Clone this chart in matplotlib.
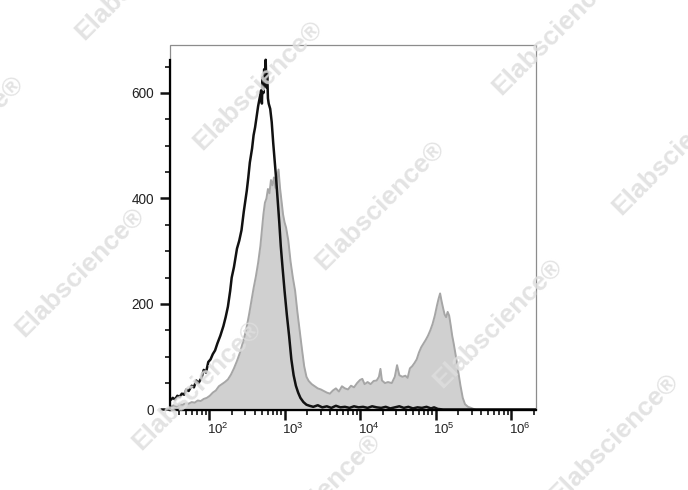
import numpy as np
import matplotlib
matplotlib.use("Agg")
import matplotlib.pyplot as plt
from matplotlib.patches import Rectangle
from matplotlib.ticker import LogLocator, MultipleLocator, FixedLocator
import matplotlib.transforms as mtransforms

plt.rcParams['font.family'] = ['Liberation Sans', 'DejaVu Sans']
plt.rcParams['mathtext.fontset'] = 'custom'
plt.rcParams['mathtext.rm'] = 'Liberation Sans'

# black histogram (isotype / unstained), x in log10 decades, y = count
black_log = [1.49, 1.52, 1.55, 1.58, 1.61, 1.64, 1.67, 1.70, 1.73, 1.77, 1.80, 1.83,
             1.86, 1.90, 1.93, 1.96, 1.99, 2.02, 2.05, 2.08, 2.11, 2.15, 2.19, 2.22,
             2.25, 2.28, 2.30, 2.33, 2.37, 2.40, 2.43, 2.46, 2.50, 2.52, 2.54, 2.57,
             2.59, 2.61, 2.63, 2.65, 2.67, 2.69, 2.70, 2.71, 2.72, 2.73, 2.74, 2.75,
             2.76, 2.77, 2.78, 2.79, 2.81, 2.83, 2.85, 2.87, 2.89, 2.91, 2.93, 2.95,
             2.97, 3.00, 3.03, 3.06, 3.09, 3.12, 3.15, 3.18, 3.21, 3.25, 3.29, 3.33,
             3.38, 3.44, 3.50, 3.56, 3.62, 3.68, 3.74, 3.80, 3.86, 3.92, 3.98, 4.04,
             4.10, 4.16, 4.22, 4.28, 4.34, 4.40, 4.46, 4.52, 4.58, 4.64, 4.70, 4.76,
             4.82, 4.88, 4.94, 4.98, 5.03, 5.10, 6.35]
black_cnt = [18, 22, 19, 26, 24, 30, 28, 38, 35, 45, 42, 55,
             50, 60, 75, 70, 90, 95, 105, 112, 125, 140, 158, 175,
             195, 225, 250, 270, 305, 320, 340, 375, 415, 440, 468, 495,
             520, 535, 555, 575, 590, 605, 580, 630, 600, 645, 620, 663,
             610, 640, 590, 580, 570, 545, 505, 470, 435, 395, 355, 310,
             275, 225, 180, 140, 95, 65, 45, 32, 22, 14, 9, 7,
             5, 8, 4, 6, 3, 7, 4, 5, 3, 6, 4, 5,
             3, 6, 4, 3, 5, 2, 4, 6, 3, 5, 2, 4,
             3, 5, 2, 4, 1, 0, 0]

# gray filled histogram (stained)
gray_log = [1.49, 1.53, 1.57, 1.61, 1.65, 1.69, 1.73, 1.77, 1.81, 1.85, 1.89, 1.93,
            1.97, 2.01, 2.05, 2.09, 2.13, 2.17, 2.21, 2.25, 2.29, 2.33, 2.37, 2.41,
            2.45, 2.49, 2.53, 2.56, 2.59, 2.62, 2.65, 2.68, 2.70, 2.72, 2.74, 2.76,
            2.78, 2.80, 2.82, 2.84, 2.86, 2.88, 2.90, 2.92, 2.94, 2.96, 2.98, 3.00,
            3.02, 3.05, 3.08, 3.11, 3.14, 3.17, 3.20, 3.23, 3.26, 3.29, 3.32, 3.36,
            3.40, 3.44, 3.48, 3.52, 3.56, 3.60, 3.64, 3.68, 3.72, 3.76, 3.80, 3.84,
            3.88, 3.92, 3.96, 4.00, 4.03, 4.06, 4.10, 4.14, 4.18, 4.22, 4.25, 4.27,
            4.29, 4.33, 4.37, 4.42, 4.46, 4.49, 4.52, 4.56, 4.60, 4.63, 4.66, 4.69,
            4.72, 4.75, 4.78, 4.81, 4.84, 4.87, 4.90, 4.93, 4.96, 4.99, 5.02, 5.04,
            5.06, 5.08, 5.10, 5.12, 5.14, 5.16, 5.18, 5.20, 5.22, 5.24, 5.27, 5.30,
            5.33, 5.36, 5.39, 5.43, 5.47, 5.52]
gray_cnt = [5, 8, 6, 10, 9, 12, 11, 14, 13, 17, 16, 20,
            22, 26, 32, 36, 44, 48, 52, 57, 66, 78, 92, 108,
            128, 150, 180, 205, 230, 252, 278, 310, 340, 370, 392, 400,
            418, 410, 435, 425, 440, 420, 440, 455, 420, 395, 370, 355,
            345, 320, 280, 250, 225, 185, 150, 115, 82, 62, 54, 48,
            44, 40, 38, 35, 32, 30, 36, 40, 34, 44, 40, 38,
            45, 42, 50, 56, 58, 48, 52, 48, 54, 55, 62, 77,
            55, 50, 52, 50, 62, 84, 65, 62, 64, 60, 78, 82,
            88, 95, 108, 118, 125, 132, 140, 150, 162, 178, 198, 210,
            220, 205, 192, 180, 175, 185, 178, 160, 140, 125, 100, 72,
            45, 22, 10, 5, 3, 0]

y_ticks = [0, 200, 400, 600]
x_decades = [2, 3, 4, 5, 6]

fig = plt.figure(figsize=(6.88, 4.90), dpi=100)
ax = fig.add_axes([170 / 688, 80 / 490, 366 / 688, 365 / 490])

gx = 10 ** np.array(gray_log)
bx = 10 ** np.array(black_log)
ax.fill_between(gx, gray_cnt, 0, color='#d0d0d0', lw=0, zorder=1)
ax.plot(gx, gray_cnt, color='#a6a6a6', lw=1.4, zorder=2)

# watermarks
marks = [(140, -25), (-41, 140), (258, 85), (380, 205), (557, 30), (677, 150),
         (80, 272), (498, 323), (614, 438), (197, 385), (316, 498)]
for mx, my in marks:
    fig.text(mx / 688, 1 - my / 490, 'Elabscience\u00ae', fontsize=19, fontweight='bold',
             color='#dedede', alpha=0.85, rotation=45, rotation_mode='anchor',
             ha='center', va='center', zorder=3)

ax.plot(bx, black_cnt, color='#111111', lw=1.8, zorder=4)

ax.set_xscale('log')
ax.set_xlim(10 ** 1.483, 10 ** 6.33)
ax.set_ylim(-1, 691)

ax.xaxis.set_major_locator(FixedLocator([10.0 ** d for d in x_decades]))
ax.xaxis.set_minor_locator(LogLocator(base=10, subs=np.arange(2, 10)))
ax.set_xticklabels(['$10^{%d}$' % d for d in x_decades])
ax.yaxis.set_major_locator(FixedLocator(y_ticks))
ax.yaxis.set_minor_locator(MultipleLocator(50))

for s in ['top', 'right']:
    ax.spines[s].set_visible(False)
ax.add_patch(Rectangle((0, 0), 1, 1, transform=ax.transAxes, fill=False,
                       edgecolor='#8c8c8c', lw=0.9, clip_on=False, zorder=0))
ax.spines['left'].set_linewidth(1.6)
ax.spines['left'].set_bounds(-1, 663)
ax.spines['bottom'].set_linewidth(1.6)
ax.spines['left'].set_zorder(5)
ax.spines['bottom'].set_zorder(5)

ax.tick_params(axis='both', which='major', direction='out', length=7.5, width=1.8,
               color='#111111', labelcolor='#222222')
ax.tick_params(axis='y', which='major', labelsize=9.8, pad=4)
ax.tick_params(axis='x', which='major', labelsize=9.5, pad=1)
ax.tick_params(axis='both', which='minor', direction='out', length=3.8, width=1.2,
               color='#111111')

offset = mtransforms.ScaledTranslation(6 / 72, 0, fig.dpi_scale_trans)
for lab in ax.get_xticklabels():
    lab.set_transform(lab.get_transform() + offset)

fig.savefig('out.png', dpi=100)
